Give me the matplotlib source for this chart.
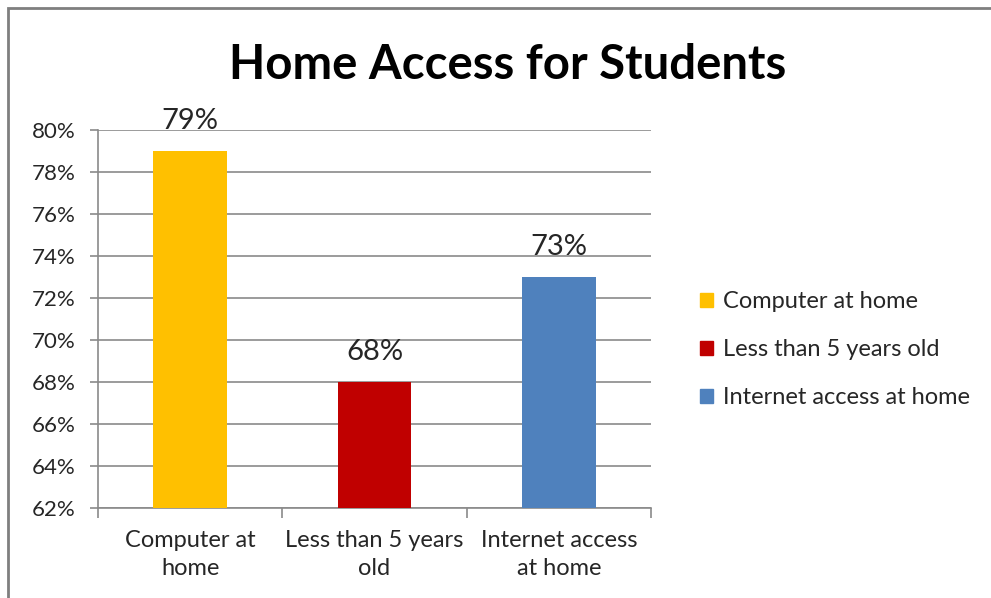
import matplotlib.pyplot as plt
from matplotlib.patches import Rectangle
from matplotlib.ticker import FuncFormatter

# survey results
categories = ['Computer at\nhome', 'Less than 5 years\nold', 'Internet access\nat home']
legend_labels = ['Computer at home', 'Less than 5 years old', 'Internet access at home']
values = [79, 68, 73]
colors = ['#FFC000', '#C00000', '#4F81BD']

plt.rcParams['font.family'] = ['Lato', 'DejaVu Sans']
GRID = '#8a8a8a'
TXT = '#262626'

fig = plt.figure(figsize=(9.91, 5.98), dpi=100)
ax = fig.add_axes([0.0989, 0.1505, 0.5580, 0.6321])

xs = range(len(values))
bars = ax.bar(xs, values, width=0.4, color=colors, bottom=0, zorder=3)

ax.set_ylim(62, 80)
ax.set_xlim(-0.5, 2.5)
ax.set_yticks(range(62, 81, 2))
ax.yaxis.set_major_formatter(FuncFormatter(lambda v, _: f'{v:.0f}%'))
ax.tick_params(axis='y', labelsize=16, colors=GRID, labelcolor=TXT, length=6, width=1.2, pad=10)
ax.grid(axis='y', color=GRID, linewidth=1.2, zorder=0)

# category separators as major ticks, names as minor ticks
ax.set_xticks([-0.5, 0.5, 1.5, 2.5])
ax.set_xticklabels([])
ax.set_xticks(list(xs), minor=True)
ax.set_xticklabels(categories, minor=True, fontsize=17, color=TXT, linespacing=1.4)
ax.tick_params(axis='x', which='major', length=7, width=1.2, colors=GRID)
ax.tick_params(axis='x', which='minor', length=0, pad=16)

for s in ['top', 'right']:
    ax.spines[s].set_visible(False)
for s in ['left', 'bottom']:
    ax.spines[s].set_color(GRID)
    ax.spines[s].set_linewidth(1.2)

for b, v in zip(bars, values):
    ax.annotate(f'{v}%', (b.get_x() + b.get_width() / 2, v), xytext=(0, 12),
                textcoords='offset points', ha='center', va='bottom',
                fontsize=21, color=TXT, annotation_clip=False)

fig.text(0.512, 0.892, 'Home Access for Students', ha='center', va='center',
         fontsize=34, fontweight='bold', color='black')

handles = [Rectangle((0, 0), 1, 1, color=c) for c in colors]
fig.legend(handles, legend_labels, loc='center left', bbox_to_anchor=(0.685, 0.415),
           frameon=False, fontsize=17, handlelength=0.55, handleheight=0.55,
           handletextpad=0.4, labelspacing=1.15, labelcolor=TXT)

# outer chart border
fig.patches.append(Rectangle((8 / 991, -0.1), 1.2, 1 - 8 / 598 + 0.1,
                             transform=fig.transFigure, fill=False,
                             edgecolor='#7f7f7f', linewidth=2))

fig.savefig('out.png', dpi=100)
